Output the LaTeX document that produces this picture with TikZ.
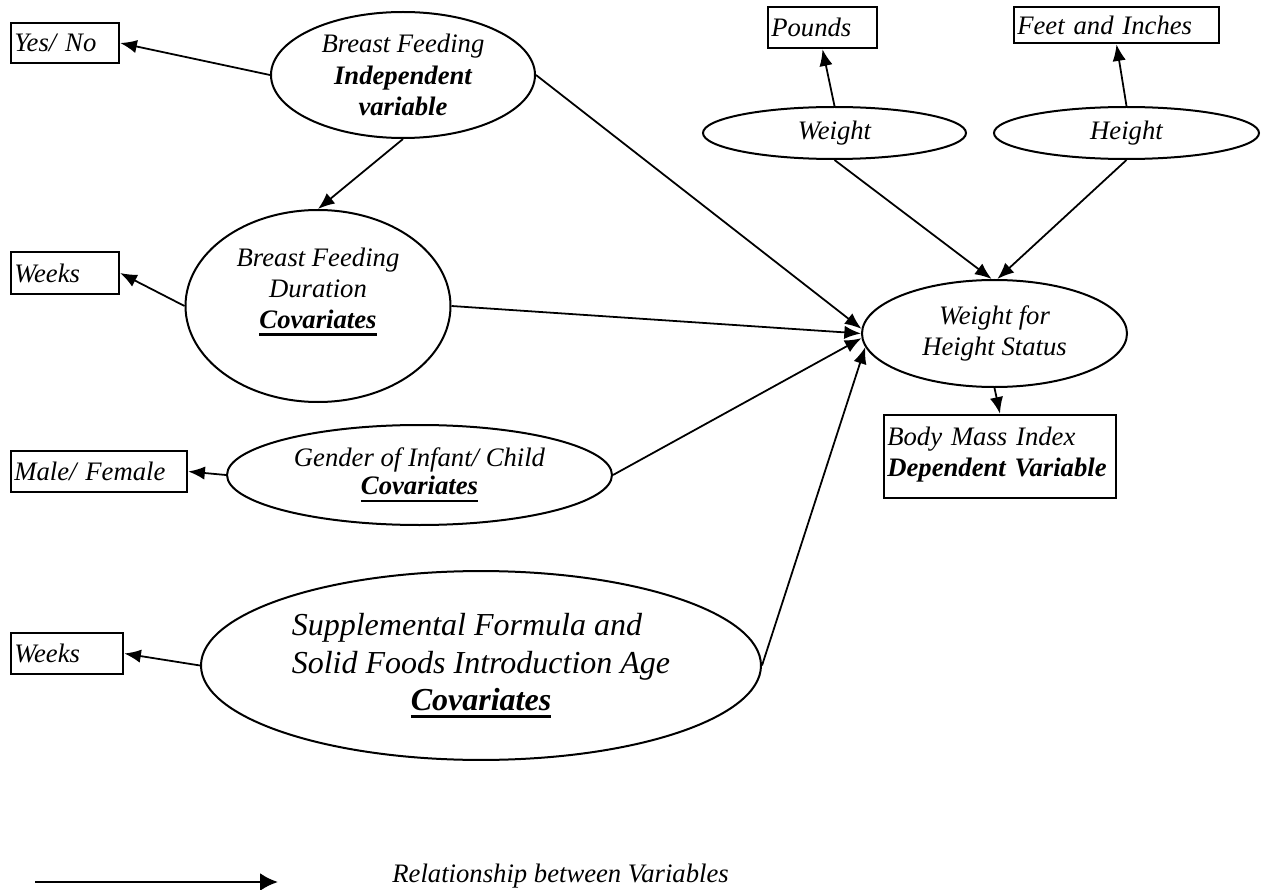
\documentclass[tikz,border=0pt]{standalone}
\usepackage{fontspec}
\setmainfont{Liberation Serif}
\usepackage{tikz}
\usetikzlibrary{arrows.meta, shapes.geometric, positioning}

\newsavebox\ulbox
\newcommand{\covul}[2]{\sbox\ulbox{\textbf{#2}}\rlap{\rule[-3.4pt]{\wd\ulbox}{#1}}\usebox\ulbox}

\tikzset{
  oval/.style={draw, ellipse, line width=0.9pt, inner sep=0pt, align=center},
  varbox/.style={draw, rectangle, line width=1.1pt, inner xsep=1.5pt, inner ysep=0pt, align=left},
  link/.style={->, line width=0.8pt},
}

\begin{document}
\begin{tikzpicture}[>={Latex[length=7.5pt,width=6pt]}, x=0.45pt, y=-0.45pt,
    font=\fontsize{12}{14}\selectfont\itshape]
    \useasboundingbox (0,0) rectangle (1266,890);
    % Variables (ellipses)
    \node[oval, minimum width=118.8pt, minimum height=56.7pt] (bfeed) at (403,75)
        {Breast Feeding\\\textbf{Independent}\\\textbf{variable}};
    \node[oval, minimum width=119.25pt, minimum height=86.4pt] (bfdur) at (318,306)
        {Breast Feeding\\Duration\\\covul{1.2pt}{Covariates}\\[2pt]\mbox{}};
    \node[oval, minimum width=173.25pt, minimum height=45pt,
        font=\fontsize{12}{12.6}\selectfont\itshape] (sex) at (419.5,475)
        {Gender of Infant/ Child\\\covul{1.2pt}{Covariates}};
    \node[oval, minimum width=252pt, minimum height=85pt,
        font=\fontsize{14.4}{17}\selectfont\itshape] (supp) at (481,665.5)
        {\begin{tabular}{@{}l@{}}Supplemental Formula and\\Solid Foods Introduction Age\\
        \multicolumn{1}{@{}c@{}}{\covul{1.5pt}{Covariates}}\end{tabular}};
    \node[oval, minimum width=118.35pt, minimum height=23.4pt] (wt) at (834.5,133) {Weight};
    \node[oval, minimum width=119.25pt, minimum height=23.4pt] (ht) at (1126.5,133) {Height};
    \node[oval, minimum width=119.25pt, minimum height=48.15pt] (whs) at (994.5,333.5)
        {Weight for\\Height Status};

    % Measures (boxes)
    \node[varbox, text width=45.6pt, minimum height=18pt] (yesno) at (65,43) {Yes/ No};
    \node[varbox, text width=45.6pt, minimum height=18.9pt] (wkdur) at (65,273) {Weeks};
    \node[varbox, text width=76.2pt, minimum height=18.45pt] (mf) at (99,471.5) {Male/ Female};
    \node[varbox, text width=47.4pt, minimum height=18.45pt] (wksupp) at (67,653.5) {Weeks};
    \node[varbox, text width=46.05pt, minimum height=18.45pt] (lbs) at (822.5,27.5) {Pounds};
    \node[varbox, text width=89.25pt, minimum height=16.2pt] (ftin) at (1116.5,25) {Feet and Inches};
    \node[varbox, text width=101.4pt, minimum height=37.35pt] (bmi) at (1000,456.5)
        {Body Mass Index\\\textbf{Dependent Variable}\\[-10pt]\mbox{}};

    % Relationships
    \draw[link] (bfeed.west) -- (yesno.east);
    \draw[link] (bfeed.south) -- (bfdur.north);
    \draw[link] (bfdur.west) -- (wkdur.east);
    \draw[link] (sex.west) -- (mf.east);
    \draw[link] (supp.west) -- (wksupp.east);
    \draw[link] (wt.north) -- (lbs.south);
    \draw[link] (ht.north) -- (ftin.south);
    \draw[link] (wt.south) -- (whs.93);
    \draw[link] (ht.south) -- (whs.87);
    \draw[link] (bfeed.east) -- (whs.178);
    \draw[link] (bfdur.east) -- (whs.west);
    \draw[link] (sex.east) -- (whs.182);
    \draw[link] (supp.east) -- (whs.186);
    \draw[link] (whs.south) -- (bmi.north);

    % Legend
    \coordinate (legA) at (35,882);
    \coordinate (legB) at (278,882);
    \draw[->, >={Latex[length=8pt,width=8pt]}, line width=1.2pt] (legA) -- (legB);
    \node[anchor=base west, inner sep=0pt] (legtxt) at (392,882) {Relationship between Variables};
\end{tikzpicture}
\end{document}
